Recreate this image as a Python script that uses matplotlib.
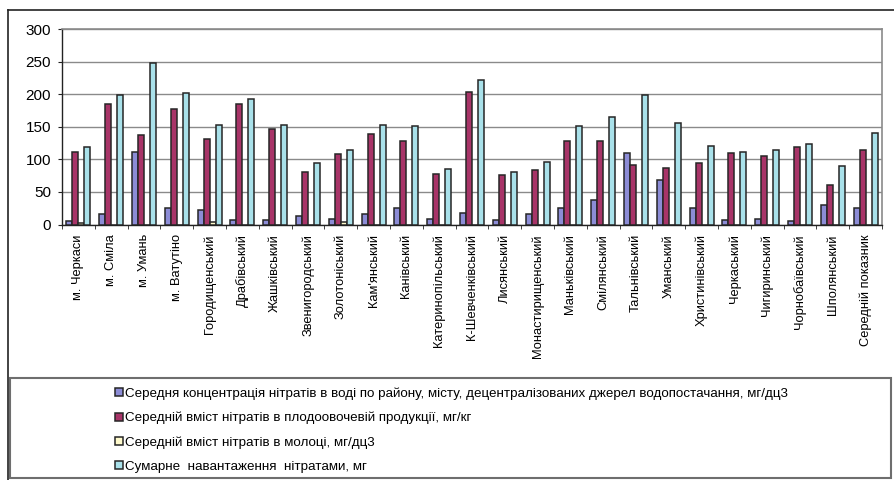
import matplotlib
matplotlib.use("Agg")
import matplotlib.pyplot as plt
from matplotlib.patches import Rectangle
from matplotlib.lines import Line2D
import numpy as np

plt.rcParams['font.family'] = ['Liberation Sans', 'DejaVu Sans']

categories = ["м. Черкаси", "м. Сміла", "м. Умань", "м. Ватутіно", "Городищенський",
              "Драбівський", "Жашківський", "Звенигородський", "Золотоніський",
              "Кам'янський", "Канівський", "Катеринопільський", "К-Шевченківський",
              "Лисянський", "Монастирищенський", "Маньківський", "Смілянський",
              "Тальнівський", "Уманський", "Христинівський", "Черкаський",
              "Чигиринський", "Чорнобаївський", "Шполянський", "Середній показник"]

water = [5, 16, 112, 25, 23, 7, 7, 13, 9, 16, 25, 9, 18, 7, 16, 25, 37, 110, 69, 25, 7, 9, 5, 30, 25]
produce = [112, 185, 137, 178, 131, 185, 146, 80, 108, 139, 128, 78, 204, 76, 83, 128, 128, 92, 87, 94, 110, 105, 119, 60, 114]
milk = [2, 0, 0, 0, 4, 0, 0, 0, 4, 0, 0, 0, 0, 0, 0, 0, 0, 0, 0, 0, 0, 0, 0, 0, 0]
total = [119, 199, 248, 202, 153, 192, 153, 94, 114, 153, 151, 85, 222, 80, 96, 151, 165, 199, 156, 121, 112, 114, 124, 90, 140]

series_names = ["Середня концентрація нітратів в воді по району, місту, децентралізованих джерел водопостачання, мг/дц3",
                "Середній вміст нітратів в плодоовочевій продукції, мг/кг",
                "Середній вміст нітратів в молоці, мг/дц3",
                "Сумарне  навантаження  нітратами, мг"]
colors = ['#8c8cd6', '#a83468', '#fffacc', '#a9e1ea']

W, H = 894, 480
fig = plt.figure(figsize=(W / 100, H / 100), dpi=100)

# outer chart frame (top & left visible)
fig.add_artist(Line2D([8 / W, 1.0], [1 - 10 / H, 1 - 10 / H], color='#222222', lw=1.2))
fig.add_artist(Line2D([8 / W, 8 / W], [0, 1 - 10 / H], color='#222222', lw=1.2))

ax = fig.add_axes([62 / W, 1 - 224.5 / H, (882 - 62) / W, (224.5 - 29) / H])

x = np.arange(len(categories))
w = 1 / 5.5
data = [water, produce, milk, total]
handles = []
for i, (vals, c) in enumerate(zip(data, colors)):
    b = ax.bar(x + (i - 1.5) * w, vals, width=w, color=c, edgecolor='#262626',
               linewidth=1.1, zorder=3)
    handles.append(b)

ax.set_xlim(-0.5, len(categories) - 0.5)
ax.set_ylim(0, 300)
ax.set_yticks(np.arange(0, 301, 50))
ax.yaxis.grid(True, color='#8a8a8a', lw=1.0, zorder=0)
ax.set_axisbelow(True)

ax.set_xticks(x)
ax.set_xticklabels(categories, rotation=90, fontsize=9.3, va='top', ha='center')
ax.tick_params(axis='x', which='major', length=0, pad=7)
ax.set_xticks(np.arange(-0.5, len(categories), 1), minor=True)
ax.tick_params(axis='x', which='minor', length=3, direction='out', color='#222222')
ax.tick_params(axis='y', length=3, direction='out', labelsize=11, pad=5, color='#222222')

for s in ['top', 'right']:
    ax.spines[s].set_color('#8a8a8a')
    ax.spines[s].set_linewidth(1.2)
for s in ['left', 'bottom']:
    ax.spines[s].set_color('#222222')
    ax.spines[s].set_linewidth(1.0)

# legend frame
fig.add_artist(Rectangle((10 / W, 1 - 478 / H), (891 - 10) / W, (478 - 378) / H,
                         transform=fig.transFigure, fill=False, edgecolor='#6e6e6e', lw=1.5))

leg = fig.legend(handles, series_names, loc='upper left',
                 bbox_to_anchor=(106 / W, 1 - 378 / H), frameon=False, fontsize=9.6,
                 handlelength=0.55, handleheight=0.55, handletextpad=0.15,
                 labelspacing=0.9, borderpad=0.2)

fig.savefig('out.png', dpi=100)
